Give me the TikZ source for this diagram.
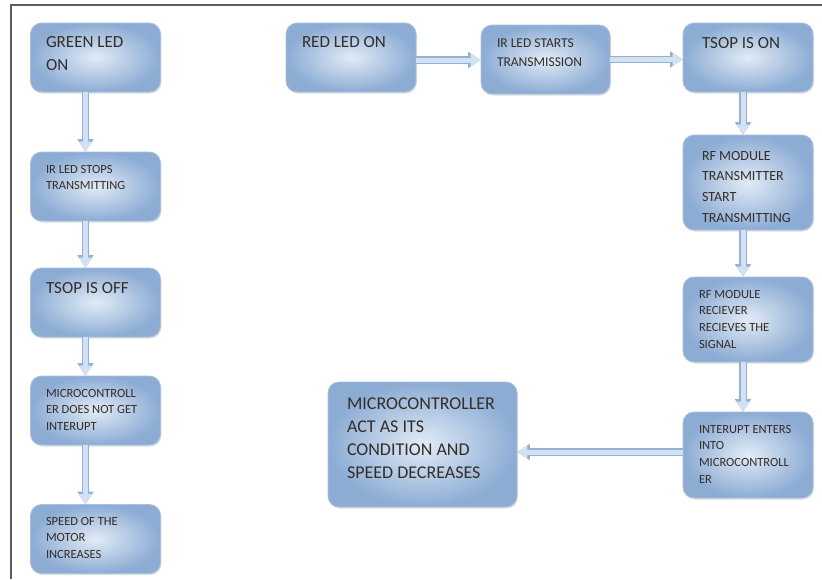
\documentclass[tikz,border=0pt]{standalone}
\usepackage{fontspec}
\setmainfont{Carlito}
\usepackage{xcolor}
\usepackage{tikz}
\usetikzlibrary{arrows.meta}
\usetikzlibrary{shadows}

\definecolor{boxdark}{RGB}{140,172,212}
\definecolor{boxlight}{RGB}{226,235,246}
\definecolor{boxline}{RGB}{170,193,222}
\definecolor{arrowin}{RGB}{210,225,243}
\definecolor{arrowout}{RGB}{148,177,213}
\definecolor{textcol}{RGB}{52,45,40}
\definecolor{framecol}{RGB}{95,95,95}

\begin{document}
\begin{tikzpicture}[
                    x = 1pt, y = -1pt,
                    box/.style = { rounded corners = 11pt, draw = boxline, line width = 0.8pt, inner color = boxlight, outer color = boxdark, drop shadow = {shadow xshift = 1pt, shadow yshift = -1.5pt, opacity = 0.25}, minimum width = 130pt, minimum height = 69pt, inner sep = 0pt },
                    lbl/.style = { anchor = north west, inner sep = 0pt, outer sep = 0pt, align = left, text = textcol },
                    big/.style = { lbl, font = \fontsize{17}{23}\selectfont },
                    mid/.style = { lbl, font = \fontsize{14}{20.7}\selectfont },
                    small/.style = { lbl, font = \fontsize{12.5}{16.8}\selectfont },
                    flow/.style = { line width = 5pt, draw = arrowin, -{Triangle[width = 13pt, length = 10pt, line width = 0pt]}, preaction = { draw = arrowout, line width = 7.5pt, -{Triangle[width = 16.5pt, length = 12.5pt, line width = 0pt]} } },
                    ]
                    \useasboundingbox (0,0) rectangle (822,579);
                    \draw[framecol, line width = 1.5pt] (11,579) -- (11,5) -- (822,5);

                    % left column
                    \node[box] (greenon) at (95.5,57.5) {};
                    \node[box] (irstop) at (95.5,186.5) {};
                    \node[box] (tsopoff) at (95.5,302.5) {};
                    \node[box] (nointr) at (95.5,410.5) {};
                    \node[box] (speedup) at (95.5,539) {};
                    \node[big] (greenon-t) at (46,36.3) {GREEN LED\\ON};
                    \node[small] (irstop-t) at (46,165) {IR LED STOPS\\TRANSMITTING};
                    \node[big] (tsopoff-t) at (46,282.3) {TSOP IS OFF};
                    \node[small] (nointr-t) at (46,389) {MICROCONTROLL\\ER DOES NOT GET\\INTERUPT};
                    \node[small] (speedup-t) at (46,517) {SPEED OF THE\\MOTOR\\INCREASES};

                    % top row and right column
                    \node[box] (redon) at (351,57.5) {};
                    \node[box, minimum width = 129pt] (irstart) at (545.5,59.5) {};
                    \node[box] (tsopon) at (748,57.5) {};
                    \node[box, minimum height = 95pt] (rftx) at (748,182.5) {};
                    \node[box, minimum height = 85pt] (rfrx) at (748,319.5) {};
                    \node[box, minimum height = 86pt] (intr) at (748,455) {};
                    \node[box, minimum width = 189pt, minimum height = 125pt] (microact) at (422.5,444.5) {};
                    \node[big] (redon-t) at (302,36.3) {RED LED ON};
                    \node[lbl, font = \fontsize{13.5}{19}\selectfont] (irstart-t) at (497,38.5) {IR LED STARTS\\TRANSMISSION};
                    \node[big] (tsopon-t) at (702,37.3) {TSOP IS ON};
                    \node[mid] (rftx-t) at (702,151.2) {RF MODULE\\TRANSMITTER\\START\\TRANSMITTING};
                    \node[small] (rfrx-t) at (699,290) {RF MODULE\\RECIEVER\\RECIEVES THE\\SIGNAL};
                    \node[small] (intr-t) at (699,425) {INTERUPT ENTERS\\INTO\\MICROCONTROLL\\ER};
                    \node[lbl, font = \fontsize{18}{23}\selectfont] (microact-t) at (347,397.6) {MICROCONTROLLER\\ACT AS ITS\\CONDITION AND\\SPEED DECREASES};

                    % arrows
                    \draw[flow] ([xshift = -10pt]greenon.south) -- ([xshift = -10pt]irstop.north);
                    \draw[flow] ([xshift = -10pt]irstop.south) -- ([xshift = -10pt]tsopoff.north);
                    \draw[flow] ([xshift = -10pt]tsopoff.south) -- ([xshift = -10pt]nointr.north);
                    \draw[flow] ([xshift = -10pt]nointr.south) -- ([xshift = -10pt]speedup.north);
                    \draw[flow] ([yshift = -2.5pt]redon.east) -- ([yshift = -2.5pt]redon.east -| irstart.west);
                    \draw[flow] (irstart.east) -- (irstart.east -| tsopon.west);
                    \draw[flow] ([xshift = -5pt]tsopon.south) -- ([xshift = -5pt]rftx.north);
                    \draw[flow] ([xshift = -5pt]rftx.south) -- ([xshift = -5pt]rfrx.north);
                    \draw[flow] ([xshift = -5pt]rfrx.south) -- ([xshift = -5pt]intr.north);
                    \draw[flow] ([yshift = 3pt]intr.west) -- ([yshift = 3pt]intr.west -| microact.east);
\end{tikzpicture}
\end{document}
